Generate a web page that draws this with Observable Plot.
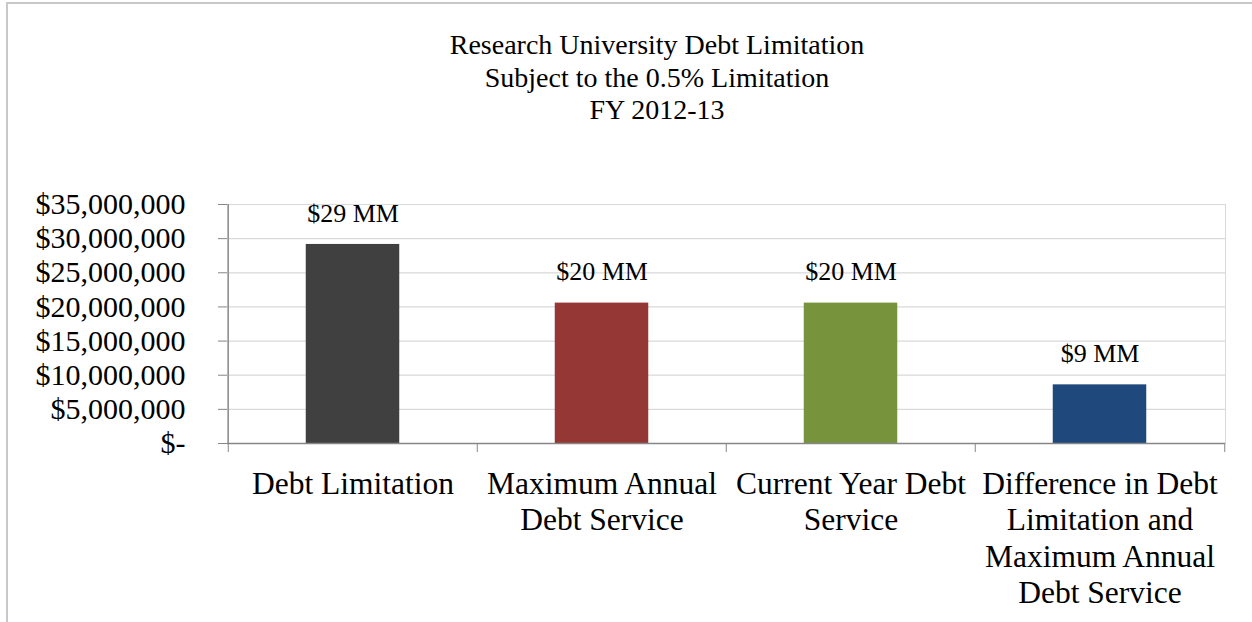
<!DOCTYPE html>
<html><head><meta charset="utf-8">
<script src="https://cdn.jsdelivr.net/npm/d3@7"></script>
<script src="https://cdn.jsdelivr.net/npm/@observablehq/plot@0.6"></script>
<style>
html,body{margin:0;padding:0;background:#fff;overflow:hidden;}
#wrap{position:relative;width:1252px;height:622px;overflow:hidden;font-family:"Liberation Serif","Times New Roman",serif;}
#title{height:130px;box-sizing:border-box;padding-top:29px;padding-left:62px;text-align:center;font-size:28px;line-height:32.5px;color:#000;}
#border{position:absolute;left:6px;top:2px;width:1400px;height:800px;border-left:2px solid #c8c8c8;border-top:2px solid #c8c8c8;pointer-events:none;}
#chart svg{display:block;}
</style></head>
<body><div id="wrap"><div id="title">Research University Debt Limitation<br>Subject to the 0.5% Limitation<br>FY 2012-13</div><div id="chart"></div><div id="border"></div></div>
<script>
const categories = ["Debt Limitation", "Maximum Annual Debt Service", "Current Year Debt Service", "Difference in Debt Limitation and Maximum Annual Debt Service"];
const tickLabels = ["Debt Limitation", "Maximum Annual\nDebt Service", "Current Year Debt\nService", "Difference in Debt\nLimitation and\nMaximum Annual\nDebt Service"];
const values = [29150000, 20560000, 20560000, 8590000];
const valueLabels = ["$29 MM", "$20 MM", "$20 MM", "$9 MM"];
const colors = ["#404040", "#953735", "#77933c", "#1f497d"];
const yTicks = [0, 5000000, 10000000, 15000000, 20000000, 25000000, 30000000, 35000000];

const data = categories.map((c, i) => ({category: c, value: values[i], label: valueLabels[i]}));
const W = 1252, H = 492, mL = 227, mR = 27;
const bw = (W - mL - mR) / categories.length;
const barW = 94;
const inset = (bw - barW) / 2;
const axisColor = "#868686";
const fmt = d => d === 0 ? "$-" : "$" + d3.format(",")(d);

const chart = Plot.plot({
  width: W, height: H,
  marginTop: 74, marginBottom: 179, marginLeft: mL, marginRight: mR,
  style: {fontFamily: "'Liberation Serif', 'Times New Roman', serif", background: "white", color: "black", overflow: "visible"},
  x: {domain: categories, padding: 0, axis: null, label: null},
  y: {domain: [0, 35000000], axis: null, label: null},
  color: {domain: categories, range: colors},
  marks: [
    Plot.gridY(yTicks, {stroke: "#d9d9d9", strokeOpacity: 1, strokeWidth: 1.2}),
    Plot.frame({stroke: "#d9d9d9"}),
    Plot.barY(data, {x: "category", y: "value", fill: "category", insetLeft: inset, insetRight: inset}),
    Plot.ruleY([0], {stroke: axisColor, strokeWidth: 1.3}),
    Plot.ruleX([categories[0]], {dx: -bw / 2, stroke: axisColor, strokeWidth: 1.3}),
    Plot.axisY(yTicks, {label: null, tickSize: 9, tickPadding: 33, tickFormat: fmt, fontSize: 30, stroke: axisColor, fill: "black"}),
    Plot.axisX(categories, {label: null, tickSize: 9, tickFormat: () => "", dx: -bw / 2, stroke: axisColor}),
    Plot.axisX([categories[categories.length - 1]], {label: null, tickSize: 9, tickFormat: () => "", dx: bw / 2, stroke: axisColor}),
    Plot.axisX(categories, {label: null, tickSize: 0, tickPadding: 25, tickFormat: d => tickLabels[categories.indexOf(d)], fontSize: 31.5, lineHeight: 1.15, fill: "black"}),
    Plot.text(data, {x: "category", y: "value", text: "label", dy: -31, fontSize: 26, fill: "black"})
  ]
});
document.getElementById("chart").appendChild(chart);
</script>
</body></html>
